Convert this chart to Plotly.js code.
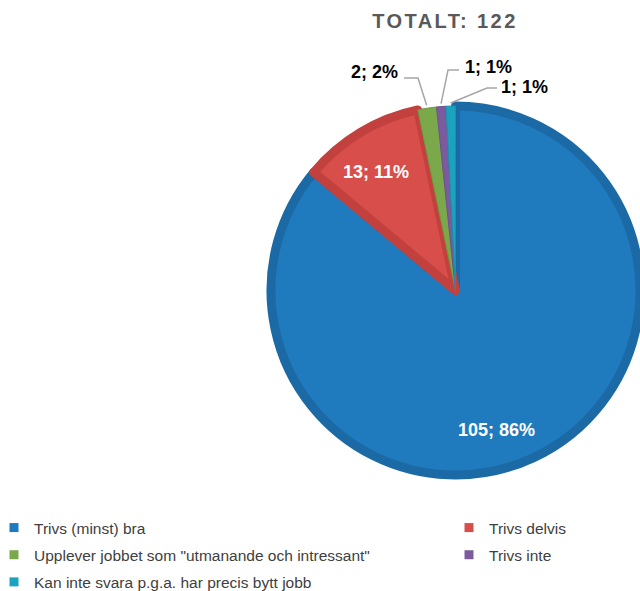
<!DOCTYPE html>
<html>
<head>
<meta charset="utf-8">
<script src="https://cdn.plot.ly/plotly-3.0.1.min.js"></script>
<style>
html,body{margin:0;padding:0;background:#fff;overflow:hidden;}
#chart{width:640px;height:591px;}
</style>
</head>
<body>
<div id="chart"></div>
<script>
// ---- data ----
var categories = [
  'Trivs (minst) bra',
  'Trivs delvis',
  'Upplever jobbet som "utmanande och intressant"',
  'Trivs inte',
  'Kan inte svara p.g.a. har precis bytt jobb'
];
var values = [105, 13, 2, 1, 1];
var titleText = 'TOTALT: 122';

// ---- styles ----
var fillColors = ['#1f7bbd', '#d84e4a', '#7ba84a', '#7b5b9e', '#1aa2bf'];
var lineColors = ['#1c6aa5', '#c2413e', '#6e9a42', '#6e518f', '#1792ad'];
var lineWidths = [9, 9, 1, 1, 1];
var FONT = 'Liberation Sans, Arial, sans-serif';

var W = 640, H = 591;
var cx = 455.5, cy = 290.5, r = 184.5;

var total = values.reduce(function (a, b) { return a + b; }, 0);

var pie = {
  type: 'pie',
  labels: categories,
  values: values,
  sort: false,
  direction: 'clockwise',
  rotation: 0,
  marker: {colors: fillColors, line: {color: lineColors, width: lineWidths}},
  textinfo: 'none',
  textposition: 'none',
  showlegend: false,
  hoverinfo: 'label+value+percent',
  domain: {
    x: [(cx - r) / W, Math.min(1, (cx + r) / W)],
    y: [(H - cy - r) / H, (H - cy + r) / H]
  }
};

// legend entries (two columns, like the original)
var legendOf = ['legend', 'legend2', 'legend', 'legend2', 'legend'];
var legendTraces = categories.map(function (c, i) {
  return {
    type: 'scatter', mode: 'markers',
    x: [null], y: [null],
    name: c,
    legend: legendOf[i],
    legendgroup: 'g' + i,
    marker: {symbol: 'square', size: 9, color: fillColors[i]},
    showlegend: true,
    hoverinfo: 'skip'
  };
});

// data labels
var labelPos = [
  {x: 496, y: 430, color: '#ffffff'},
  {x: 375.5, y: 172, color: '#ffffff'},
  {x: 374, y: 72, color: '#000000', elbow: [418, 78], start: [404, 78]},
  {x: 488, y: 67, color: '#000000', elbow: [448, 70], start: [459, 70]},
  {x: 524.5, y: 87.5, color: '#000000', elbow: [487, 88], start: [497, 88]}
];
var rEdge = r + 3;
var annotations = [], shapes = [];
var cum = 0;
values.forEach(function (v, i) {
  var mid = (cum + v / 2) / total * 2 * Math.PI;
  cum += v;
  var p = labelPos[i];
  var txt = v + '; ' + Math.round(v / total * 100) + '%';
  annotations.push({
    xref: 'paper', yref: 'paper',
    x: p.x / W, y: 1 - p.y / H,
    xanchor: 'center', yanchor: 'middle',
    text: '<b>' + txt + '</b>', showarrow: false,
    font: {family: FONT, size: 18, color: p.color}
  });
  if (p.elbow) {
    var ex = cx + rEdge * Math.sin(mid), ey = cy - rEdge * Math.cos(mid);
    var px = function (x) { return x / W; }, py = function (y) { return 1 - y / H; };
    shapes.push({
      type: 'path', xref: 'paper', yref: 'paper', layer: 'above',
      path: 'M' + px(p.start[0]) + ',' + py(p.start[1]) +
            ' L' + px(p.elbow[0]) + ',' + py(p.elbow[1]) +
            ' L' + px(ex) + ',' + py(ey),
      line: {color: '#a6a6a6', width: 1.5}
    });
  }
});

var legendCommon = {
  orientation: 'v',
  yanchor: 'top',
  xanchor: 'left',
  bgcolor: 'rgba(0,0,0,0)',
  borderwidth: 0,
  traceorder: 'grouped',
  tracegroupgap: 4,
  itemclick: false,
  font: {family: FONT, size: 15.5, color: '#404040'}
};

var layout = {
  width: W, height: H,
  margin: {l: 0, r: 0, t: 0, b: 0, autoexpand: false},
  paper_bgcolor: '#ffffff',
  plot_bgcolor: '#ffffff',
  xaxis: {visible: false},
  yaxis: {visible: false},
  title: {
    text: '<b>' + titleText + '</b>',
    x: 445 / W, xanchor: 'center',
    y: 1 - 21 / H, yanchor: 'middle',
    font: {family: FONT, size: 20, color: '#595959'}
  },
  legend: Object.assign({}, legendCommon, {x: -6 / W, y: 1 - 511 / H}),
  legend2: Object.assign({}, legendCommon, {x: 449 / W, y: 1 - 511 / H}),
  annotations: annotations,
  shapes: shapes
};

Plotly.newPlot('chart', legendTraces.concat([pie]), layout, {displayModeBar: false, staticPlot: true}).then(function () {
  var t = document.querySelector('.gtitle');
  if (t) t.style.letterSpacing = '2.4px';
});
</script>
</body>
</html>
